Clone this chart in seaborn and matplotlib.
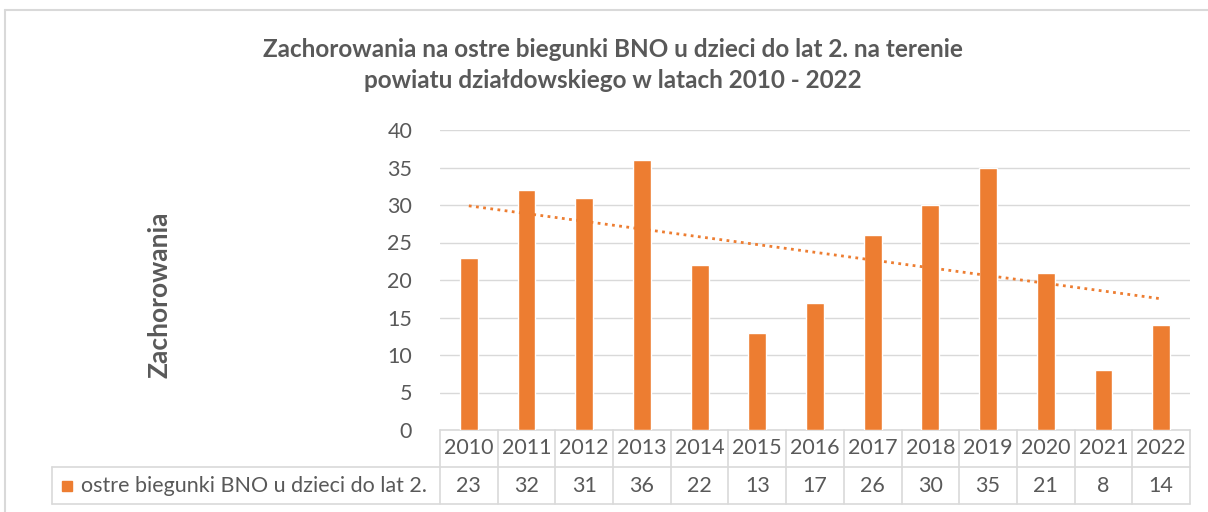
import numpy as np
import pandas as pd
import matplotlib
matplotlib.use("Agg")
import matplotlib.pyplot as plt
import seaborn as sns
from matplotlib.patches import Rectangle
from matplotlib.lines import Line2D

# Data
years = ["2010", "2011", "2012", "2013", "2014", "2015", "2016",
         "2017", "2018", "2019", "2020", "2021", "2022"]
cases = [23, 32, 31, 36, 22, 13, 17, 26, 30, 35, 21, 8, 14]
series_name = "ostre biegunki BNO u dzieci do lat 2."
title = "Zachorowania na ostre biegunki BNO u dzieci do lat 2. na terenie\npowiatu działdowskiego w latach 2010 - 2022"
y_label = "Zachorowania"

df = pd.DataFrame({"Rok": years, "Zachorowania": cases})

orange = "#ED7D31"
grey_txt = "#595959"
grid_c = "#D9D9D9"
fs = 15.5

sns.set_style("white")
plt.rcParams["font.family"] = ["Lato", "DejaVu Sans"]

W, H = 1208, 512
fig = plt.figure(figsize=(W / 100, H / 100), dpi=100)

# axes in pixel coordinates
left, right, top, bottom = 440, 1190, 130, 430
ax = fig.add_axes([left / W, 1 - bottom / H, (right - left) / W, (bottom - top) / H])

sns.barplot(data=df, x="Rok", y="Zachorowania", color=orange, width=0.31,
            saturation=1, ax=ax, zorder=3)

# linear trend line
xs = np.arange(len(cases))
k, b = np.polyfit(xs, cases, 1)
ax.plot(xs, k * xs + b, color=orange, linestyle=(0, (1, 1.6)), linewidth=2, zorder=4)

ax.set_xlim(-0.5, len(years) - 0.5)
ax.set_ylim(0, 40)
ax.set_yticks(range(0, 41, 5))
ax.yaxis.grid(True, color=grid_c, linewidth=1)
ax.set_axisbelow(True)
for s in ax.spines.values():
    s.set_visible(False)
ax.tick_params(axis="y", length=0, labelsize=fs, labelcolor=grey_txt, pad=20)
ax.tick_params(axis="x", length=0, labelbottom=False)
ax.set_xlabel("")
ax.set_ylabel("")

# data table under the axes
row_h = 37 / (bottom - top)
trans = ax.get_xaxis_transform()
unit_px = (right - left) / len(years)
table_left = -0.5 - (left - 52) / unit_px
tkw = dict(color=grid_c, linewidth=1.2, transform=trans, clip_on=False)
ax.add_line(Line2D([-0.5, len(years) - 0.5], [0, 0], **tkw))
ax.add_line(Line2D([table_left, len(years) - 0.5], [-row_h, -row_h], **tkw))
ax.add_line(Line2D([table_left, len(years) - 0.5], [-2 * row_h, -2 * row_h], **tkw))
for i in range(len(years) + 1):
    ax.add_line(Line2D([i - 0.5, i - 0.5], [0, -2 * row_h], **tkw))
ax.add_line(Line2D([table_left, table_left], [-row_h, -2 * row_h], **tkw))
for i, (yr, v) in enumerate(zip(years, cases)):
    ax.text(i, -row_h / 2, yr, transform=trans, ha="center", va="center",
            fontsize=fs, color=grey_txt)
    ax.text(i, -1.5 * row_h, str(v), transform=trans, ha="center", va="center",
            fontsize=fs, color=grey_txt)
fig.patches.append(Rectangle((62 / W, 1 - 491 / H), 10 / W, 10 / H,
                             transform=fig.transFigure, color=orange))
fig.text(81 / W, 1 - 486 / H, series_name, ha="left", va="center",
         fontsize=fs, color=grey_txt)

# title and y label
fig.text(613 / W, 1 - 65 / H, title, ha="center", va="center", fontsize=17.5,
         fontweight="bold", color=grey_txt, linespacing=1.45)
fig.text(160 / W, 1 - 295 / H, y_label, ha="center", va="center", rotation=90,
         fontsize=19, fontweight="bold", color=grey_txt)

# outer chart frame
fig.add_artist(Line2D([5 / W, 1], [1 - 10 / H, 1 - 10 / H], color=grid_c,
                      linewidth=1.5, transform=fig.transFigure))
fig.add_artist(Line2D([5 / W, 5 / W], [0, 1 - 10 / H], color=grid_c,
                      linewidth=1.5, transform=fig.transFigure))

fig.savefig("out.png", dpi=100)
